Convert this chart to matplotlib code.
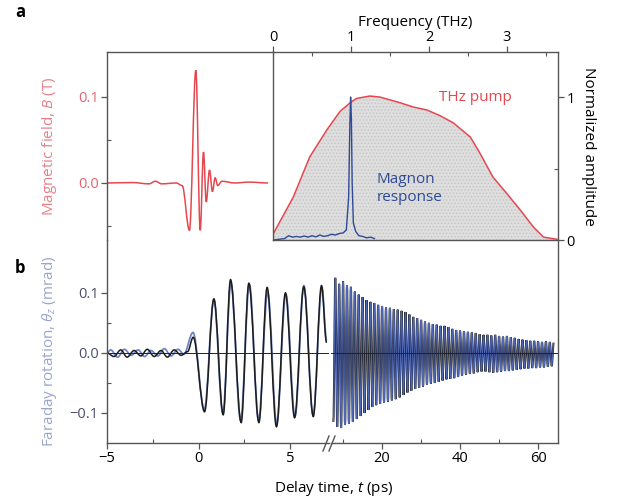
import matplotlib
matplotlib.use("Agg")
import matplotlib.pyplot as plt
from matplotlib.path import Path
from matplotlib.patches import PathPatch
from matplotlib.ticker import FixedLocator

plt.rcParams['font.family'] = ['Open Sans', 'DejaVu Sans']
plt.rcParams['mathtext.fontset'] = 'custom'
plt.rcParams['mathtext.rm'] = 'Open Sans'
plt.rcParams['mathtext.it'] = 'Open Sans:italic'
plt.rcParams['hatch.linewidth'] = 0.6

# --- Daten ---
# a, links: THz-Magnetfeld B (T) gegen Zeit (ps), Extremwerte
pulse_t = [-5.0, -3.6, -2.7, -2.35, -2.0, -1.2, -0.88, -0.48, -0.13, 0.11, 0.29,
           0.44, 0.62, 0.78, 0.93, 1.07, 1.3, 2.0, 2.8, 3.83]
pulse_b = [0.0, 0.0005, -0.001, 0.002, -0.001, 0.0, -0.003, -0.055, 0.131, -0.055, 0.036,
           -0.022, 0.015, -0.010, 0.006, -0.003, 0.002, 0.0, 0.001, 0.0]

# a, rechts: normierte Spektren
pump_f = [0.0, 0.03, 0.26, 0.47, 0.69, 0.86, 0.99, 1.07, 1.24, 1.37, 1.63, 1.80, 1.97,
          2.14, 2.31, 2.53, 2.65, 2.82, 2.99, 3.17, 3.34, 3.47, 3.64]
pump_amp = [0.04, 0.07, 0.30, 0.58, 0.77, 0.90, 0.96, 0.99, 1.007, 1.0, 0.96, 0.93, 0.91,
            0.87, 0.82, 0.72, 0.61, 0.44, 0.33, 0.21, 0.09, 0.02, 0.005]
magnon_f = [0.0, 0.15, 0.2, 0.25, 0.3, 0.35, 0.4, 0.45, 0.5, 0.55, 0.6, 0.65, 0.7, 0.75,
            0.8, 0.85, 0.9, 0.94, 0.97, 0.985, 0.995, 1.005, 1.015, 1.03, 1.06, 1.1,
            1.15, 1.2, 1.25, 1.3]
magnon_amp = [0.0, 0.01, 0.03, 0.02, 0.025, 0.02, 0.028, 0.02, 0.03, 0.022, 0.035, 0.025,
              0.03, 0.04, 0.035, 0.045, 0.05, 0.07, 0.3, 0.8, 1.0, 0.85, 0.4, 0.12, 0.06,
              0.03, 0.025, 0.015, 0.02, 0.01]

# b, links (-5 bis 7 ps): Faraday-Rotation (mrad), Extremwerte
black_t = [-5.0, -4.62, -4.25, -3.9, -3.52, -3.15, -2.8, -2.42, -2.05, -1.7, -1.33, -0.95,
           -0.6, -0.29, 0.33, 0.84, 1.35, 1.75, 2.33, 2.75, 3.3, 3.75, 4.26, 4.75, 5.25,
           5.75, 6.27, 6.72, 7.0]
black_v = [0.0, -0.006, 0.005, -0.007, 0.004, -0.005, 0.006, -0.006, 0.004, -0.007, 0.005,
           -0.004, 0.002, 0.026, -0.098, 0.09, -0.103, 0.122, -0.116, 0.116, -0.116, 0.109,
           -0.123, 0.1, -0.108, 0.11, -0.106, 0.112, 0.017]
blue_t = [-5.0, -4.8, -4.42, -4.05, -3.68, -3.3, -2.95, -2.6, -2.22, -1.87, -1.5, -1.12,
          -0.8, -0.3, 0.32, 0.84, 1.33, 1.77, 2.3, 2.78, 3.28, 3.78, 4.27, 4.77, 5.27,
          5.76, 6.26, 6.74, 7.0]
blue_v = [0.0, 0.005, -0.007, 0.006, -0.004, 0.005, -0.006, 0.004, -0.005, 0.007, -0.005,
          0.006, -0.002, 0.034, -0.094, 0.088, -0.1, 0.115, -0.112, 0.114, -0.112, 0.101,
          -0.118, 0.098, -0.105, 0.112, -0.103, 0.11, 0.02]

# b, rechts (7 bis 65 ps): Maxima und Minima je Periode
peak_t = [8, 9, 10, 11, 12, 13, 14, 15, 16, 17, 18, 19, 20, 21, 22, 23, 24, 25, 26, 27,
          28, 29, 30, 31, 32, 33, 34, 35, 36, 37, 38, 39, 40, 41, 42, 43, 44, 45, 46, 47,
          48, 49, 50, 51, 52, 53, 54, 55, 56, 57, 58, 59, 60, 61, 62, 63, 64]
peak_v = [0.125, 0.115, 0.119, 0.113, 0.11, 0.102, 0.097, 0.093, 0.088, 0.085,
          0.083, 0.08, 0.078, 0.076, 0.075, 0.073, 0.072, 0.07, 0.068, 0.064,
          0.06, 0.058, 0.055, 0.052, 0.05, 0.048, 0.047, 0.045, 0.045, 0.043,
          0.04, 0.038, 0.037, 0.036, 0.035, 0.034, 0.033, 0.031, 0.03, 0.03,
          0.029, 0.03, 0.028, 0.027, 0.028, 0.026, 0.025, 0.023, 0.022, 0.021,
          0.02, 0.02, 0.019, 0.018, 0.019, 0.018, 0.017]
trough_t = [7.5, 8.5, 9.5, 10.5, 11.5, 12.5, 13.5, 14.5, 15.5, 16.5, 17.5, 18.5, 19.5,
            20.5, 21.5, 22.5, 23.5, 24.5, 25.5, 26.5, 27.5, 28.5, 29.5, 30.5, 31.5,
            32.5, 33.5, 34.5, 35.5, 36.5, 37.5, 38.5, 39.5, 40.5, 41.5, 42.5, 43.5,
            44.5, 45.5, 46.5, 47.5, 48.5, 49.5, 50.5, 51.5, 52.5, 53.5, 54.5, 55.5,
            56.5, 57.5, 58.5, 59.5, 60.5, 61.5, 62.5, 63.5]
trough_v = [-0.115, -0.123, -0.125, -0.12, -0.118, -0.115, -0.11, -0.105, -0.1, -0.095,
            -0.09, -0.087, -0.085, -0.083, -0.081, -0.079, -0.077, -0.074, -0.07, -0.066,
            -0.063, -0.06, -0.058, -0.056, -0.053, -0.051, -0.05, -0.048, -0.046, -0.044,
            -0.043, -0.042, -0.04, -0.038, -0.036, -0.035, -0.034, -0.032, -0.031, -0.031,
            -0.032, -0.033, -0.032, -0.031, -0.03, -0.03, -0.029, -0.028, -0.027, -0.026,
            -0.026, -0.025, -0.025, -0.024, -0.024, -0.023, -0.022]

RED = '#e5474f'
RED_LIGHT = '#e8808a'
BLUE_DARK = '#2e4a94'
BLUE_LIGHT = '#6f86c6'
SPINE = '#555555'


def px(x0, y0, x1, y1):
    # Pixelbox (oben links / unten rechts) -> Figurenkoordinaten
    return [x0 / 624, 1 - y1 / 504, (x1 - x0) / 624, (y1 - y0) / 504]


def smooth(ax, ts, vs, color, lw, k=0.36, alpha=1.0):
    # glatte Kurve durch die Extremwerte (waagrechte Tangenten)
    verts = [(ts[0], vs[0])]
    codes = [Path.MOVETO]
    for i in range(1, len(ts)):
        dt = ts[i] - ts[i - 1]
        verts += [(ts[i - 1] + k * dt, vs[i - 1]), (ts[i] - k * dt, vs[i]), (ts[i], vs[i])]
        codes += [Path.CURVE4] * 3
    ax.add_patch(PathPatch(Path(verts, codes), fill=False, ec=color, lw=lw, alpha=alpha))


def style(ax):
    for s in ax.spines.values():
        s.set_color(SPINE)
        s.set_linewidth(1.0)
    ax.tick_params(which='major', direction='out', length=4, width=0.9, color=SPINE,
                   labelsize=10.5, pad=2)
    ax.tick_params(which='minor', direction='in', length=3, width=0.8, color=SPINE)


fig = plt.figure(figsize=(6.24, 5.04), dpi=100)

ax_a = fig.add_axes(px(107, 52, 273, 240))
ax_f = fig.add_axes(px(273, 52, 558, 240))
ax_b1 = fig.add_axes(px(107, 240, 329, 443))
ax_b2 = fig.add_axes(px(331, 240, 558, 443))
for ax in (ax_a, ax_f, ax_b1, ax_b2):
    style(ax)
    ax.patch.set_alpha(0)

# Panel a, Zeitsignal
smooth(ax_a, pulse_t, pulse_b, RED, 1.1)
ax_a.set_xlim(-5, 4.1)
ax_a.set_ylim(-0.0663, 0.1523)
ax_a.spines['bottom'].set_visible(False)
ax_a.spines['right'].set_visible(False)
ax_a.set_xticks([])
ax_a.set_yticks([0.0, 0.1])
ax_a.set_yticklabels(['0.0', '0.1'], color='#e06470')
ax_a.yaxis.set_minor_locator(FixedLocator([-0.05, 0.05]))
ax_a.set_ylabel('Magnetic field, $\\it{B}$ (T)', color=RED_LIGHT, fontsize=11)
ax_a.yaxis.set_label_coords(-0.29, 0.5)

# Panel a, Spektren
ax_f.fill_between(pump_f, pump_amp, 0, facecolor='#dedede', edgecolor='#c4c4c4',
                  hatch='.....', linewidth=0)
ax_f.plot(pump_f, pump_amp, color=RED, lw=1.1)
ax_f.plot(magnon_f, magnon_amp, color=BLUE_DARK, lw=1.0)
ax_f.set_xlim(0, 3.654)
ax_f.set_ylim(0, 1.315)
ax_f.xaxis.tick_top()
ax_f.xaxis.set_label_position('top')
ax_f.set_xticks([0, 1, 2, 3])
ax_f.xaxis.set_minor_locator(FixedLocator([0.5, 1.5, 2.5, 3.5]))
ax_f.tick_params(axis='x', pad=1)
ax_f.set_xlabel('Frequency (THz)', fontsize=11, labelpad=3)
ax_f.yaxis.tick_right()
ax_f.yaxis.set_label_position('right')
ax_f.set_yticks([0, 1])
ax_f.yaxis.set_minor_locator(FixedLocator([0.5]))
ax_f.set_ylabel('Normalized amplitude', fontsize=11, rotation=270, labelpad=15)
ax_f.text(2.6, 1.0, 'THz pump', color=RED, fontsize=11, ha='center', va='center')
ax_f.text(1.33, 0.36, 'Magnon\nresponse', color=BLUE_DARK, fontsize=11, ha='left',
          va='center', linespacing=1.35)

# Panel b, links
ax_b1.axhline(0, color='#222222', lw=0.7)
smooth(ax_b1, blue_t, blue_v, BLUE_LIGHT, 1.3)
smooth(ax_b1, black_t, black_v, '#1c1c1c', 1.1)
ax_b1.set_xlim(-5, 7.13)
ax_b1.set_ylim(-0.15, 0.188)
ax_b1.spines['top'].set_visible(False)
ax_b1.spines['right'].set_visible(False)
ax_b1.set_xticks([-5, 0, 5])
ax_b1.set_xticklabels(['\u22125', '0', '5'])
ax_b1.xaxis.set_minor_locator(FixedLocator([-2.5, 2.5]))
ax_b1.set_yticks([-0.1, 0.0, 0.1])
ax_b1.set_yticklabels(['\u22120.1', '0.0', '0.1'], color='#4b4e6e')
ax_b1.yaxis.set_minor_locator(FixedLocator([-0.05, 0.05]))
ax_b1.set_ylabel('Faraday rotation, $\\it{\\theta_z}$ (mrad)', color='#9aa5cf', fontsize=11)
ax_b1.yaxis.set_label_coords(-0.218, 0.45)

# Panel b, rechts
osc_t = sorted(peak_t + trough_t)
lookup = dict(zip(peak_t, peak_v))
lookup.update(dict(zip(trough_t, trough_v)))
osc_v = [lookup[t] for t in osc_t]
ax_b2.axhline(0, color='#222222', lw=0.7)
smooth(ax_b2, osc_t, osc_v, '#1c1c1c', 1.4)
smooth(ax_b2, osc_t, osc_v, '#4f66b2', 0.8)
ax_b2.set_xlim(6.9, 65.1)
ax_b2.set_ylim(-0.15, 0.188)
ax_b2.spines['top'].set_visible(False)
ax_b2.spines['left'].set_visible(False)
ax_b2.set_yticks([])
ax_b2.set_xticks([20, 40, 60])
ax_b2.xaxis.set_minor_locator(FixedLocator([10, 30, 50]))

# Achsenbruch //
for x0 in (323, 329):
    fig.add_artist(plt.Line2D([x0 / 624, (x0 + 6) / 624], [1 - 451 / 504, 1 - 436 / 504],
                              color=SPINE, lw=1.0))

fig.text(334 / 624, 1 - 488 / 504, 'Delay time, $\\it{t}$ (ps)', ha='center', va='center',
         fontsize=11)
fig.text(20 / 624, 1 - 12 / 504, 'a', fontsize=12, fontweight='bold', ha='center', va='center')
fig.text(20 / 624, 1 - 268 / 504, 'b', fontsize=12, fontweight='bold', ha='center', va='center')

fig.savefig('out.png', dpi=100)
